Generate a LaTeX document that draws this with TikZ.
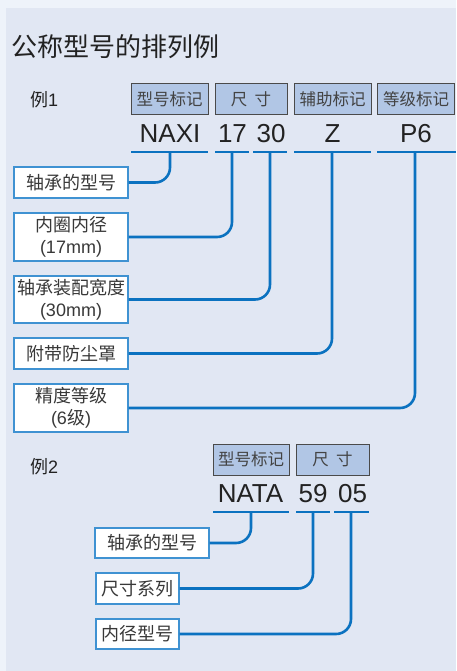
\documentclass[tikz,border=0pt]{standalone}
\usepackage{fontspec}
\setmainfont{Liberation Sans}
\newfontfamily\cjk{Noto Sans CJK SC}
\definecolor{outerbg}{HTML}{EEF3FA}
\definecolor{panelbg}{HTML}{E1E7F3}
\definecolor{hdrfill}{HTML}{B1C6E5}
\definecolor{hdrline}{HTML}{4A4A4A}
\definecolor{lineblue}{HTML}{0B72C0}
\definecolor{boxblue}{HTML}{3F92D2}
\definecolor{txt}{HTML}{222222}
\tikzset{
  hdr/.style={draw=hdrline, line width=1pt, fill=hdrfill, inner sep=0pt,
    minimum height=31pt, text=txt!85, font=\cjk\fontsize{16.5}{18}\selectfont},
  val/.style={inner sep=0pt, text=txt, font=\fontsize{26}{28}\selectfont},
  lbl/.style={draw=boxblue, line width=1.2pt, fill=white, inner sep=0pt,
    align=center, text=txt!90, font=\fontsize{18}{21.5}\selectfont},
  uline/.style={draw=lineblue, line width=2.6pt},
  conn/.style={draw=lineblue, line width=2.6pt, rounded corners=15pt},
}
\begin{document}
\begin{tikzpicture}[x=1pt,y=-1pt]
\fill[outerbg] (0,0) rectangle (456,671);
\fill[panelbg] (6,8) rectangle (456,671);
\useasboundingbox (0,0) rectangle (456,671);

\node[anchor=west, inner sep=0pt, text=txt, font=\cjk\fontsize{26}{28}\selectfont] (title) at (11,47) {公称型号的排列例};

% ---------- Example 1 ----------
\node[anchor=west, inner sep=0pt, text=txt, font=\fontsize{18}{20}\selectfont] (ex1) at (30,100) {{\cjk 例}1};

\node[hdr, minimum width=77pt] (h1) at (169.5,99.5) {型号标记};
\node[hdr, minimum width=72pt] (h2) at (251,99.5) {尺\hspace{0.45em}寸};
\node[hdr, minimum width=77pt] (h3) at (332.5,99.5) {辅助标记};
\node[hdr, minimum width=77pt] (h4) at (416,99.5) {等级标记};

\node[val] (v1) at (170,134) {NAXI};
\node[val] (v2) at (232.5,134) {17};
\node[val] (v3) at (271,134) {30};
\node[val] (v4) at (332.5,134) {Z};
\node[val] (v5) at (416,134) {P6};

\coordinate (u1a) at (131,152); \coordinate (u1b) at (208,152);
\coordinate (u2a) at (215,152); \coordinate (u2b) at (249,152);
\coordinate (u3a) at (253,152); \coordinate (u3b) at (287,152);
\coordinate (u4a) at (294,152); \coordinate (u4b) at (371,152);
\coordinate (u5a) at (377,152); \coordinate (u5b) at (456,152);
\draw[uline] (u1a) -- (u1b);
\draw[uline] (u2a) -- (u2b);
\draw[uline] (u3a) -- (u3b);
\draw[uline] (u4a) -- (u4b);
\draw[uline] (u5a) -- (u5b);
\coordinate (t1) at (170,152);
\coordinate (t2) at (232,152);
\coordinate (t3) at (270,152);
\coordinate (t4) at (332,152);
\coordinate (t5) at (415,152);

\node[lbl, minimum width=114pt, minimum height=31pt] (b1) at (71,182.5) {{\cjk 轴承的型号}};
\node[lbl, minimum width=114pt, minimum height=48pt] (b2) at (71,237) {{\cjk 内圈内径}\\(17mm)};
\node[lbl, minimum width=114pt, minimum height=47pt] (b3) at (71,299.5) {{\cjk 轴承装配宽度}\\(30mm)};
\node[lbl, minimum width=114pt, minimum height=31pt] (b4) at (71,353.5) {{\cjk 附带防尘罩}};
\node[lbl, minimum width=114pt, minimum height=48pt] (b5) at (71,408) {{\cjk 精度等级}\\(6{\cjk 级})};

\draw[conn] (t1) |- (b1.east);
\draw[conn] (t2) |- (b2.east);
\draw[conn] (t3) |- (b3.east);
\draw[conn] (t4) |- (b4.east);
\draw[conn] (t5) |- (b5.east);

% ---------- Example 2 ----------
\node[anchor=west, inner sep=0pt, text=txt, font=\fontsize{18}{20}\selectfont] (ex2) at (30,467) {{\cjk 例}2};

\node[hdr, minimum width=76pt] (k1) at (251,459.5) {型号标记};
\node[hdr, minimum width=73pt] (k2) at (332.5,459.5) {尺\hspace{0.45em}寸};

\node[val] (w1) at (250.5,494) {NATA};
\node[val] (w2) at (313,494) {59};
\node[val] (w3) at (352.5,494) {05};

\coordinate (p1a) at (213,512); \coordinate (p1b) at (289,512);
\coordinate (p2a) at (296,512); \coordinate (p2b) at (330,512);
\coordinate (p3a) at (334,512); \coordinate (p3b) at (369,512);
\draw[uline] (p1a) -- (p1b);
\draw[uline] (p2a) -- (p2b);
\draw[uline] (p3a) -- (p3b);
\coordinate (s1) at (251,512);
\coordinate (s2) at (313,512);
\coordinate (s3) at (351,512);

\node[lbl, minimum width=114pt, minimum height=30pt] (c1) at (152,543) {{\cjk 轴承的型号}};
\node[lbl, minimum width=83pt, minimum height=31pt] (c2) at (137.5,588.5) {{\cjk 尺寸系列}};
\node[lbl, minimum width=83pt, minimum height=30pt] (c3) at (137.5,634) {{\cjk 内径型号}};

\draw[conn] (s1) |- (c1.east);
\draw[conn] (s2) |- (c2.east);
\draw[conn] (s3) |- (c3.east);
\end{tikzpicture}
\end{document}
